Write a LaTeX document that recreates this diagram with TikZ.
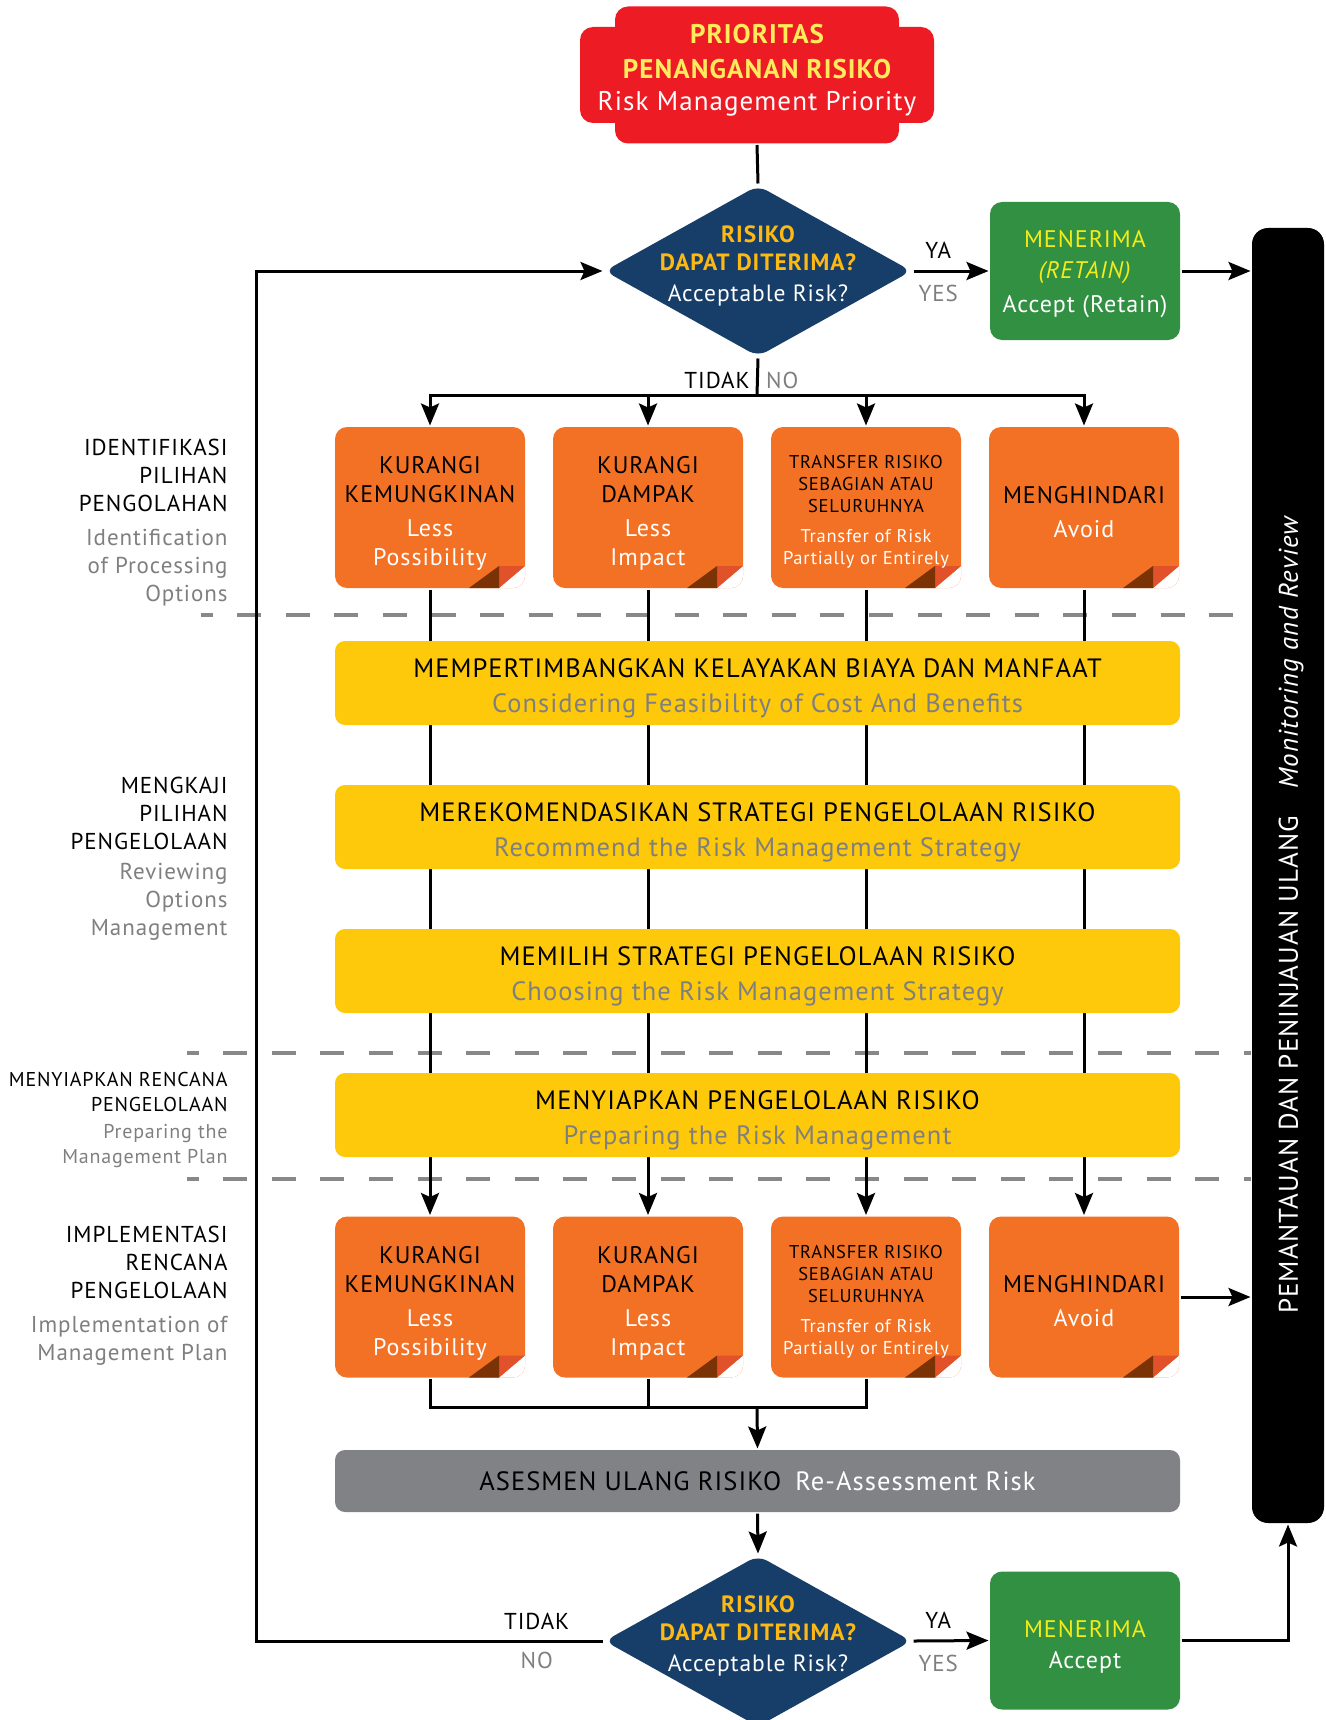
\documentclass[tikz,border=0pt]{standalone}
\usepackage{fontspec}
\setmainfont{PT Sans}[LetterSpace=4]
\usetikzlibrary{positioning, arrows.meta, shapes.geometric}

\definecolor{prioRed}{HTML}{ED1C24}
\definecolor{prioYellow}{HTML}{FFEB5C}
\definecolor{askBlue}{HTML}{173D69}
\definecolor{askGold}{HTML}{FDB913}
\definecolor{keepGreen}{HTML}{329043}
\definecolor{keepYellow}{HTML}{F4EB1B}
\definecolor{optOrange}{HTML}{F37124}
\definecolor{foldDark}{HTML}{7B3306}
\definecolor{foldLight}{HTML}{E1512A}
\definecolor{stepYellow}{HTML}{FFC90B}
\definecolor{engGrey}{HTML}{7F7F7F}
\definecolor{reaGrey}{HTML}{818285}
\definecolor{sepGrey}{HTML}{888888}

\newcommand{\engtxt}[1]{{\color{engGrey}#1}}
\newcommand{\whtxt}[1]{{\color{white}#1}}

\begin{document}
\begin{tikzpicture}[
        x=1pt, y=-1pt,
        % Option boxes: orange, folded corner, 218pt apart
        node distance=218pt,
        optbox/.style={
                fill=optOrange, rounded corners=12pt,
                minimum width=190pt, minimum height=161pt,
                inner sep=0pt, align=center, text height=121pt,
                font=\fontsize{24}{29}\selectfont,
                path picture={
                        \path (path picture bounding box.south east) coordinate (fc);
                        \fill[white, sharp corners] (fc) -- ([yshift=22pt]fc) -- ([xshift=-26pt]fc) -- cycle;
                        \fill[foldLight, sharp corners] ([xshift=-26pt]fc) -- ([shift={(-26pt,22pt)}]fc) -- ([yshift=22pt]fc) -- cycle;
                        \fill[foldDark, sharp corners] ([xshift=-56pt]fc) -- ([shift={(-26pt,22pt)}]fc) -- ([xshift=-26pt]fc) -- cycle;
                    }
            },
        smallopt/.style={optbox, text height=117.8pt, font=\fontsize{18.5}{22}\selectfont},
        avoidopt/.style={optbox, text height=59.6pt},
        % Step boxes: yellow bands across the four columns
        stepbox/.style={
                fill=stepYellow, rounded corners=10pt,
                minimum width=845pt, minimum height=84pt, text height=64.5pt,
                align=center, font=\fontsize{26.5}{35}\selectfont
            },
        reabox/.style={
                fill=reaGrey, rounded corners=10pt,
                minimum width=845pt, minimum height=62pt,
                font=\fontsize{26.5}{35}\selectfont
            },
        % Decision diamonds
        askbox/.style={
                diamond, fill=askBlue, rounded corners=10pt,
                minimum width=308pt, minimum height=172pt, inner sep=0pt
            },
        asktext/.style={align=center, text=white, font=\fontsize{23.5}{28}\selectfont},
        keepbox/.style={
                fill=keepGreen, rounded corners=12pt,
                minimum width=190pt, minimum height=138pt, text height=88.4pt,
                align=center, text=white, font=\fontsize{24}{31}\selectfont
            },
        prioshape/.style={fill=prioRed, rounded corners=13pt, inner sep=0pt},
        phase/.style={anchor=north east, align=right, inner sep=0pt, font=\fontsize{23}{28}\selectfont},
        yesno/.style={font=\fontsize{23}{25}\selectfont},
        sepline/.style={sepGrey, line width=4pt, dash pattern=on 24pt off 24.6pt, dash phase=12.5pt},
        % Arrow style
        >={Stealth[length=22pt, width=18pt, inset=4pt]},
        line width=3pt
    ]
    \useasboundingbox (0,0) rectangle (1325,1720);

    %% ---- Priority box (top) ----
    \node[prioshape, minimum width=354pt, minimum height=96pt] (prioWide) at (757,75) {};
    \node[prioshape, minimum width=284pt, minimum height=137pt] (prioTall) at (757,75) {};
    \node[align=center, font=\fontsize{27}{32.5}\selectfont] (prio) at (757,70)
    {\textbf{\color{prioYellow}PRIORITAS}\\[2.5pt]\textbf{\color{prioYellow}PENANGANAN RISIKO}\\\whtxt{Risk Management Priority}};

    %% ---- Decisions and acceptance ----
    \node[askbox] (ask1) at (758,271) {};
    \node[asktext, yshift=5pt] (ask1t) at (ask1)
    {\textbf{\color{askGold}RISIKO}\\\textbf{\color{askGold}DAPAT DITERIMA?}\\[3pt]Acceptable Risk?};
    \node[askbox] (ask2) at (758,1641) {};
    \node[asktext, yshift=5pt] (ask2t) at (ask2)
    {\textbf{\color{askGold}RISIKO}\\\textbf{\color{askGold}DAPAT DITERIMA?}\\[3pt]Acceptable Risk?};

    \node[keepbox] (keep1) at (1085,271)
    {{\color{keepYellow}MENERIMA}\\{\color{keepYellow}\textit{(RETAIN)}}\\[3pt]Accept (Retain)};
    \node[keepbox, text height=60.8pt] (keep2) at (1085,1640.5)
    {{\color{keepYellow}MENERIMA}\\Accept};

    %% ---- Monitoring bar ----
    \node[fill=black, rounded corners=16pt, minimum width=72pt, minimum height=1295pt] (bar) at (1288,875.5) {};
    \node[rotate=90, text=white, font=\fontsize{27}{27}\selectfont] (barText) at (1291,914)
    {PEMANTAUAN DAN PENINJAUAN ULANG\hspace{27pt}\textit{Monitoring and Review}};

    %% ---- Option boxes, first row ----
    \node[optbox] (less1) at (430,507.5) {KURANGI\\KEMUNGKINAN\\[5pt]\whtxt{Less}\\\whtxt{Possibility}};
    \node[optbox, right of=less1] (impact1) {KURANGI\\DAMPAK\\[5pt]\whtxt{Less}\\\whtxt{Impact}};
    \node[smallopt, right of=impact1] (transfer1) {TRANSFER RISIKO\\SEBAGIAN ATAU\\SELURUHNYA\\[8pt]\whtxt{Transfer of Risk}\\\whtxt{Partially or Entirely}};
    \node[avoidopt, right of=transfer1] (avoid1) {MENGHINDARI\\[5pt]\whtxt{Avoid}};

    %% ---- Option boxes, second row ----
    \node[optbox] (less2) at (430,1297) {KURANGI\\KEMUNGKINAN\\[5pt]\whtxt{Less}\\\whtxt{Possibility}};
    \node[optbox, right of=less2] (impact2) {KURANGI\\DAMPAK\\[5pt]\whtxt{Less}\\\whtxt{Impact}};
    \node[smallopt, right of=impact2] (transfer2) {TRANSFER RISIKO\\SEBAGIAN ATAU\\SELURUHNYA\\[8pt]\whtxt{Transfer of Risk}\\\whtxt{Partially or Entirely}};
    \node[avoidopt, right of=transfer2] (avoid2) {MENGHINDARI\\[5pt]\whtxt{Avoid}};

    \node[reabox] (reassess) at (757.5,1481)
    {ASESMEN ULANG RISIKO\hspace{14pt}\whtxt{Re-Assessment Risk}};

    %% ---- Phase captions (left) ----
    \node[phase] (ident) at (229,438)
    {IDENTIFIKASI\\PILIHAN\\PENGOLAHAN\\[6pt]\engtxt{Identification}\\\engtxt{of Processing}\\\engtxt{Options}};
    \node[phase] (review) at (229,776)
    {MENGKAJI\\PILIHAN\\PENGELOLAAN\\[2pt]\engtxt{Reviewing}\\\engtxt{Options}\\\engtxt{Management}};
    \node[phase, font=\fontsize{20}{25}\selectfont] (plan) at (229,1071)
    {MENYIAPKAN RENCANA\\PENGELOLAAN\\[2pt]\engtxt{Preparing the}\\\engtxt{Management Plan}};
    \node[phase] (impl) at (229,1225)
    {IMPLEMENTASI\\RENCANA\\PENGELOLAAN\\[6pt]\engtxt{Implementation of}\\\engtxt{Management Plan}};

    %% ---- Dashed phase separators ----
    \coordinate (sep1) at (201,615);
    \coordinate (sep2) at (187,1053);
    \coordinate (sep3) at (187,1179);
    \foreach \s in {sep1,sep2,sep3}
    \draw[sepline] (\s) -- (\s -| bar.west);

    %% ---- Connectors ----
    \coordinate (split) at (757,395);
    \coordinate (join) at (757,1407);
    \coordinate (loop) at (256,1641);

    \draw (prioTall.south) -- (ask1.north);
    \draw (ask1.south) -- node[yesno, pos=0.6, left=3pt] (no1a) {TIDAK}
    node[yesno, pos=0.6, right=4pt, text=engGrey] (no1b) {NO} (split);
    \foreach \b in {less1,impact1,transfer1,avoid1}
    \draw[->] (split) -| (\b.north);
    \draw[->] (ask1.east) -- node[yesno, pos=0.33, above=8pt] (ya1) {YA}
    node[yesno, pos=0.33, below=9pt, text=engGrey] (yes1) {YES} (keep1.west);
    \draw[->] (keep1.east) -- (keep1.east -| bar.west);

    % columns run behind the yellow steps
    \foreach \a/\b in {less1/less2,impact1/impact2,transfer1/transfer2,avoid1/avoid2}
    \draw[->] (\a.south) -- (\b.north);

    \draw (less2.south) |- (join) -| (transfer2.south);
    \draw (impact2.south) -- (impact2.south |- join);
    \draw[->] (join) -- (reassess.north);
    \draw[->] (avoid2.east) -- (avoid2.east -| bar.west);
    \draw[->] (reassess.south) -- (ask2.north);
    \draw[->] (ask2.east) -- node[yesno, pos=0.33, above=8pt] (ya2) {YA}
    node[yesno, pos=0.33, below=9pt, text=engGrey] (yes2) {YES} (keep2.west);
    \draw[->] (keep2.east) -| (bar.south);
    \draw[->] (ask2.west) -- node[yesno, pos=0.19, above=6pt] (no2a) {TIDAK}
    node[yesno, pos=0.19, below=6pt, text=engGrey] (no2b) {NO} (loop) |- (ask1.west);

    %% ---- Yellow steps ----
    \node[stepbox] (feasible) at (757.5,683)
    {MEMPERTIMBANGKAN KELAYAKAN BIAYA DAN MANFAAT\\\engtxt{Considering Feasibility of Cost And Benefits}};
    \node[stepbox, below of=feasible, node distance=144pt] (recommend)
    {MEREKOMENDASIKAN STRATEGI PENGELOLAAN RISIKO\\\engtxt{Recommend the Risk Management Strategy}};
    \node[stepbox, below of=recommend, node distance=144pt] (choose)
    {MEMILIH STRATEGI PENGELOLAAN RISIKO\\\engtxt{Choosing the Risk Management Strategy}};
    \node[stepbox, below of=choose, node distance=144pt] (prepare)
    {MENYIAPKAN PENGELOLAAN RISIKO\\\engtxt{Preparing the Risk Management}};

\end{tikzpicture}
\end{document}
